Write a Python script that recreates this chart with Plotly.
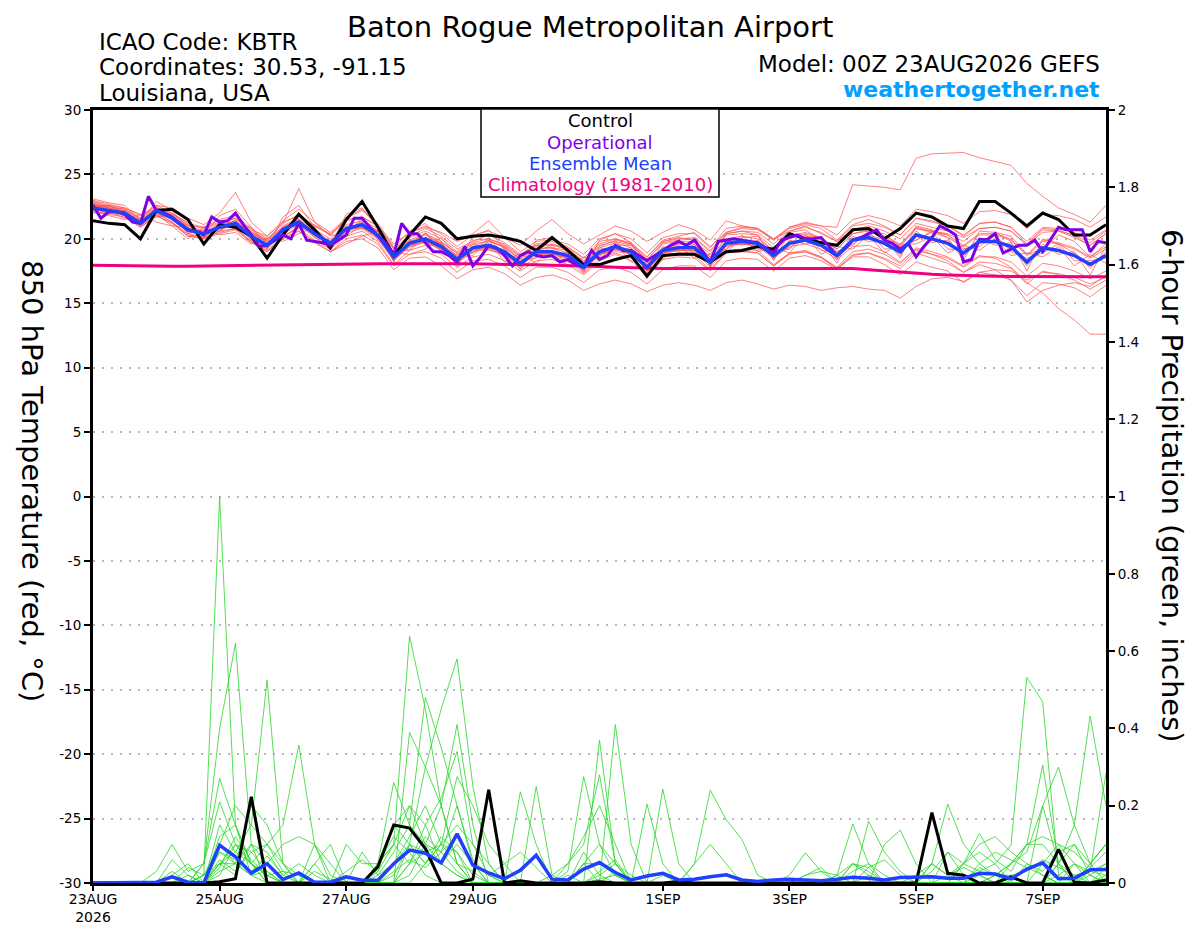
import plotly.graph_objects as go

# ---------------- DATA ----------------
hours6 = list(range(0, 385, 6))     # 65 six-hourly forecast hours
hours3 = list(range(0, 385, 3))     # 129 three-hourly forecast hours (operational)

tick_hours = [0, 48, 96, 144, 216, 264, 312, 360]
tick_labels = ["23AUG<br>2026", "25AUG", "27AUG", "29AUG", "1SEP", "3SEP", "5SEP", "7SEP"]

temp_ticks = [-30, -25, -20, -15, -10, -5, 0, 5, 10, 15, 20, 25, 30]
temp_tick_labels = ["-30", "-25", "-20", "-15", "-10", "-5", "0", "5", "10", "15", "20", "25", "30"]

# Control 850 hPa temperature (C)
control_temp = [21.4, 21.2, 21.1, 20.0, 22.2, 22.3, 21.5, 19.6, 21.1, 20.9, 20.2, 18.5, 20.3,
                21.9, 20.7, 19.3, 21.5, 22.9, 20.9, 18.7, 20.3, 21.7, 21.2, 20.0, 20.2, 20.3,
                20.1, 19.8, 19.1, 20.1, 19.1, 18.0, 18.0, 18.4, 18.7, 17.1, 18.7, 18.8, 18.8,
                18.2, 19.0, 19.1, 19.4, 19.2, 20.4, 20.0, 19.7, 19.5, 20.7, 20.8, 20.0, 20.8,
                22.0, 21.7, 21.0, 20.8, 22.9, 22.9, 22.0, 21.0, 22.0, 21.5, 20.3, 20.3, 21.1]

# Ensemble mean 850 hPa temperature (C)
mean_temp = [22.4, 22.2, 22.0, 21.2, 22.2, 21.6, 20.7, 20.4, 20.9, 21.2, 20.2, 19.5, 20.7,
             21.3, 20.4, 19.65, 20.8, 21.1, 20.3, 18.6, 19.65, 20.0, 19.4, 18.4, 19.3, 19.5,
             19.0, 18.1, 19.0, 19.0, 18.7, 17.8, 19.0, 19.4, 19.0, 17.8, 19.1, 19.3, 19.3,
             18.2, 19.65, 19.8, 19.65, 18.7, 19.65, 19.9, 19.5, 18.7, 19.9, 20.1, 19.65, 19.0,
             20.3, 20.0, 19.65, 18.9, 19.8, 19.8, 19.4, 18.2, 19.3, 19.1, 18.7, 18.0, 18.7]

# Operational (3-hourly) 850 hPa temperature (C)
oper_temp = [22.6, 21.6, 22.1, 22.1, 21.9, 21.3, 21.2, 23.3, 22.2, 22.0,
             21.7, 21.2, 20.7, 20.6, 20.3, 21.7, 21.3, 21.4, 22.0, 21.1,
             20.3, 19.4, 19.5, 19.9, 20.3, 20.0, 21.2, 19.9, 19.8, 19.7,
             19.5, 19.9, 20.3, 21.6, 21.6, 20.9, 20.2, 19.7, 18.7, 21.2,
             20.4, 20.4, 19.7, 19.0, 19.0, 18.7, 18.2, 19.4, 17.9, 18.6,
             19.5, 19.3, 18.7, 17.9, 18.7, 19.0, 18.7, 18.6, 18.7, 18.2,
             18.4, 18.0, 17.8, 19.1, 18.4, 18.7, 19.5, 19.1, 19.1, 18.7,
             18.3, 18.7, 19.1, 19.5, 19.8, 19.5, 19.9, 19.0, 18.2, 19.8,
             19.9, 20.0, 19.9, 19.8, 19.7, 19.3, 18.9, 19.9, 20.1, 20.3,
             20.0, 20.0, 20.1, 19.4, 18.7, 19.2, 19.9, 20.1, 20.4, 20.7,
             19.9, 19.65, 19.2, 19.65, 18.6, 19.4, 20.1, 21.0, 20.7, 20.3,
             18.2, 18.4, 19.95, 19.95, 20.4, 18.9, 19.2, 19.5, 19.5, 19.9,
             19.0, 19.9, 20.9, 20.7, 20.7, 20.7, 19.0, 19.8, 19.7]

# Climatology (1981-2010) 850 hPa temperature (C)
clim_temp = [17.95, 17.93, 17.9, 17.88, 17.87, 17.87, 17.88, 17.9, 17.9, 17.92, 17.93, 17.95, 17.97,
             17.98, 18.0, 18.02, 18.03, 18.05, 18.06, 18.07, 18.08, 18.08, 18.08, 18.07, 18.06, 18.05,
             18.03, 18.0, 17.98, 17.95, 17.93, 17.9, 17.85, 17.8, 17.75, 17.72, 17.7, 17.7, 17.7,
             17.72, 17.73, 17.74, 17.75, 17.75, 17.75, 17.75, 17.74, 17.73, 17.7, 17.6, 17.5, 17.4,
             17.3, 17.25, 17.2, 17.15, 17.1, 17.1, 17.08, 17.07, 17.07, 17.06, 17.06, 17.06, 17.06]

# Ensemble member 850 hPa temperatures (C)
member_temp_01 = [22.9, 22.5, 22.3, 21.6, 22.6, 22.0, 21.0, 20.9, 21.5, 21.8, 20.8, 20.0, 21.2,
                  21.9, 21.0, 20.3, 21.5, 21.7, 21.0, 19.3, 20.2, 20.8, 20.2, 19.2, 19.8, 20.3,
                  19.7, 18.8, 19.6, 19.8, 19.4, 18.5, 19.8, 20.0, 19.6, 18.6, 19.9, 20.2, 20.5,
                  19.4, 20.5, 20.9, 20.8, 20.0, 20.9, 21.2, 21.0, 20.9, 24.2, 24.1, 24.0, 23.8,
                  26.25, 26.6, 26.65, 26.7, 26.3, 26.0, 25.7, 24.3, 23.3, 22.4, 21.9, 21.3, 22.6]
member_temp_02 = [22.1, 21.9, 21.7, 20.9, 21.8, 21.2, 20.2, 20.0, 20.6, 20.8, 19.8, 19.1, 20.2,
                  20.8, 19.9, 19.2, 20.2, 20.6, 19.8, 18.0, 19.1, 19.5, 18.8, 17.8, 18.6, 18.8,
                  18.3, 17.5, 18.3, 18.4, 18.0, 17.2, 18.3, 18.8, 18.3, 17.1, 18.4, 18.6, 18.5,
                  17.5, 18.9, 19.0, 18.9, 17.9, 18.9, 19.1, 18.6, 17.8, 19.0, 19.2, 18.8, 18.1,
                  19.3, 19.0, 18.6, 17.9, 18.7, 18.5, 17.8, 16.6, 15.8, 14.6, 13.7, 12.6, 12.6]
member_temp_03 = [22.7, 22.4, 22.1, 21.0, 22.0, 21.3, 20.4, 20.1, 20.5, 20.8, 19.8, 19.0, 20.0,
                  20.6, 19.7, 19.0, 19.8, 20.0, 19.3, 17.6, 18.5, 18.6, 17.9, 16.9, 17.6, 17.8,
                  17.3, 16.4, 17.0, 17.2, 16.8, 16.0, 16.5, 16.8, 16.5, 15.9, 16.4, 16.6, 16.4,
                  16.0, 16.6, 16.8, 16.5, 16.1, 16.4, 16.3, 16.0, 16.2, 16.3, 16.1, 16.0, 15.4,
                  16.3, 16.9, 17.0, 16.7, 17.4, 17.6, 17.5, 16.8, 17.4, 17.3, 17.0, 16.5, 17.0]
member_temp_04 = [23.0, 22.7, 22.4, 21.8, 22.6, 22.4, 21.6, 21.1, 22.0, 23.6, 21.3, 20.2, 21.4,
                  22.3, 21.3, 20.5, 21.6, 22.2, 21.2, 19.4, 20.5, 21.0, 20.4, 19.4, 20.3, 20.6,
                  20.1, 19.0, 19.8, 19.9, 19.6, 18.8, 20.0, 20.4, 20.0, 18.9, 20.1, 20.4, 20.4,
                  19.3, 20.8, 21.0, 20.8, 19.9, 20.8, 21.1, 20.8, 19.9, 21.1, 21.5, 21.0, 20.3,
                  21.6, 21.4, 21.0, 20.2, 21.2, 21.3, 20.9, 19.6, 20.8, 20.7, 20.2, 19.5, 20.4]
member_temp_05 = [22.3, 22.1, 21.9, 21.4, 22.3, 21.9, 21.1, 20.8, 21.2, 21.6, 20.5, 19.9, 21.2,
                  23.9, 21.3, 20.2, 21.7, 22.3, 21.0, 19.2, 20.1, 20.6, 20.0, 19.0, 19.9, 20.0,
                  19.6, 18.7, 19.5, 19.5, 19.2, 18.3, 19.4, 19.9, 19.6, 18.4, 19.6, 19.8, 19.8,
                  18.8, 20.3, 20.4, 20.3, 19.3, 20.2, 20.5, 20.1, 19.2, 20.4, 20.7, 20.2, 19.6,
                  20.9, 20.6, 20.3, 19.5, 20.4, 20.4, 20.0, 18.8, 19.9, 19.7, 19.3, 18.6, 19.4]
member_temp_06 = [22.6, 22.4, 21.8, 21.5, 21.9, 21.0, 20.9, 20.0, 21.3, 20.7, 20.4, 19.8, 20.2,
                  20.9, 20.8, 19.3, 20.4, 21.6, 19.9, 18.9, 19.2, 20.5, 19.0, 18.8, 18.9, 20.1,
                  18.6, 18.4, 18.5, 19.5, 18.2, 18.1, 18.6, 19.8, 18.6, 18.1, 18.7, 19.8, 18.8,
                  18.5, 19.2, 20.3, 19.2, 19.0, 19.2, 20.4, 19.1, 19.0, 19.5, 20.6, 19.2, 19.3,
                  19.9, 20.5, 19.2, 19.2, 19.4, 20.3, 19.0, 18.5, 18.9, 19.6, 18.3, 18.3, 18.5]
member_temp_07 = [22.2, 22.6, 22.1, 21.0, 22.5, 21.8, 20.4, 20.7, 20.6, 21.5, 20.0, 19.2, 20.9,
                  21.5, 20.1, 19.9, 20.6, 21.3, 20.6, 18.3, 19.9, 19.7, 19.7, 18.1, 19.6, 19.2,
                  19.3, 17.8, 19.3, 18.7, 19.0, 17.5, 19.3, 19.1, 19.3, 17.5, 19.4, 19.0, 19.6,
                  17.9, 19.9, 19.5, 19.9, 18.4, 19.9, 19.6, 19.8, 18.4, 20.2, 19.8, 19.9, 18.7,
                  20.6, 19.7, 19.9, 18.6, 20.1, 19.5, 19.7, 17.9, 19.6, 18.8, 19.0, 17.7, 19.0]
member_temp_08 = [22.8, 22.0, 22.2, 21.3, 21.8, 21.7, 20.9, 20.2, 21.1, 21.0, 20.5, 19.7, 20.5,
                  21.4, 20.6, 19.8, 21.0, 20.8, 20.6, 18.9, 19.8, 20.3, 19.6, 18.7, 19.6, 19.8,
                  19.4, 18.5, 19.4, 19.3, 19.1, 18.3, 19.5, 19.8, 19.5, 18.4, 19.7, 19.9, 20.0,
                  19.0, 20.4, 20.6, 20.5, 19.6, 20.6, 20.9, 20.5, 19.8, 21.0, 21.2, 20.9, 20.3,
                  21.6, 21.3, 21.0, 20.3, 21.2, 21.3, 20.9, 19.8, 20.9, 20.8, 20.5, 19.9, 20.7]
member_temp_09 = [22.5, 22.2, 21.9, 21.1, 22.1, 21.5, 20.6, 20.4, 20.8, 21.1, 20.1, 19.4, 20.6,
                  21.2, 20.3, 19.5, 20.6, 21.0, 20.1, 18.4, 19.4, 19.8, 19.1, 18.1, 19.0, 19.2,
                  18.7, 17.7, 18.6, 18.6, 18.3, 17.3, 18.5, 18.9, 18.5, 17.3, 18.6, 18.8, 18.7,
                  17.6, 19.0, 19.1, 18.9, 17.9, 18.8, 19.0, 18.5, 17.7, 18.8, 18.9, 18.4, 17.7,
                  18.9, 18.5, 18.1, 17.4, 18.2, 18.1, 17.7, 16.5, 17.5, 17.2, 16.8, 16.1, 16.8]
member_temp_10 = [22.4, 22.3, 22.1, 21.4, 22.0, 21.7, 20.8, 20.6, 20.7, 21.3, 20.3, 19.6, 20.8,
                  21.2, 20.5, 19.5, 20.9, 21.0, 20.4, 18.5, 19.8, 19.9, 19.5, 18.3, 19.4, 19.4,
                  19.1, 18.0, 19.1, 18.9, 18.8, 17.7, 19.1, 19.3, 19.1, 17.7, 19.2, 19.2, 19.4,
                  18.1, 19.8, 19.7, 19.8, 18.6, 19.8, 19.8, 19.6, 18.6, 20.0, 20.0, 19.7, 18.9,
                  20.4, 19.9, 19.7, 18.8, 19.9, 19.7, 19.5, 18.1, 19.4, 19.0, 18.8, 17.9, 18.8]
member_temp_11 = [22.7, 22.5, 22.3, 21.6, 22.4, 22.0, 21.2, 20.9, 21.3, 21.6, 20.7, 20.2, 21.3,
                  21.8, 21.0, 20.4, 21.4, 21.7, 21.0, 19.6, 20.5, 20.9, 20.5, 19.8, 20.4, 21.4,
                  20.1, 19.5, 20.6, 21.5, 20.4, 19.6, 20.3, 21.0, 20.6, 19.8, 20.5, 21.1, 20.7,
                  19.9, 21.4, 21.0, 20.8, 20.0, 20.6, 21.0, 20.4, 19.8, 20.7, 21.0, 20.6, 20.0,
                  21.2, 20.9, 20.6, 20.1, 20.8, 20.9, 20.6, 19.5, 20.5, 20.6, 20.1, 19.5, 20.4]
member_temp_12 = [22.3, 22.0, 21.8, 20.9, 21.8, 21.2, 20.3, 20.0, 20.4, 20.7, 19.7, 19.0, 20.1,
                  20.6, 19.8, 19.0, 20.0, 20.3, 19.6, 17.9, 18.8, 19.0, 18.5, 17.4, 18.3, 18.4,
                  17.9, 17.0, 17.8, 17.8, 17.4, 16.6, 17.6, 17.8, 17.4, 16.5, 17.6, 17.9, 17.9,
                  17.0, 18.3, 18.5, 18.4, 17.5, 18.5, 18.7, 18.3, 17.6, 18.7, 18.9, 18.5, 17.9,
                  19.1, 18.8, 18.5, 17.8, 18.6, 18.6, 18.2, 17.1, 18.1, 17.9, 17.5, 16.9, 17.5]
member_temp_13 = [22.9, 22.6, 22.4, 21.9, 22.3, 21.5, 20.6, 20.3, 21.0, 21.4, 20.4, 19.8, 21.0,
                  21.6, 20.2, 19.8, 20.6, 21.4, 20.8, 18.8, 19.6, 20.4, 19.6, 18.6, 19.4, 19.9,
                  19.3, 18.4, 19.2, 19.3, 18.9, 18.0, 19.3, 19.7, 19.3, 18.1, 19.3, 19.6, 19.7,
                  18.6, 20.0, 20.2, 20.0, 19.1, 20.1, 20.4, 20.0, 19.2, 20.4, 20.6, 20.1, 19.5,
                  20.8, 20.5, 20.1, 19.4, 20.3, 20.3, 19.9, 18.7, 19.8, 19.6, 19.2, 18.5, 19.2]
member_temp_14 = [22.6, 22.2, 22.0, 21.3, 22.4, 21.6, 20.6, 20.5, 20.8, 21.2, 20.2, 19.6, 20.6,
                  21.2, 20.3, 19.6, 20.7, 20.9, 20.2, 18.5, 19.5, 19.8, 19.3, 18.3, 19.2, 19.3,
                  18.9, 18.0, 18.9, 18.9, 18.5, 17.6, 18.8, 19.2, 18.8, 17.6, 18.9, 19.1, 19.1,
                  18.0, 19.4, 19.6, 19.4, 18.5, 19.4, 19.6, 19.2, 18.4, 19.4, 19.5, 19.0, 18.2,
                  19.2, 18.8, 18.3, 17.4, 18.0, 17.6, 16.8, 15.1, 16.0, 16.4, 16.6, 16.3, 17.2]
member_temp_15 = [22.0, 22.1, 21.6, 21.2, 22.0, 21.3, 20.2, 20.2, 20.8, 21.0, 19.9, 19.3, 20.4,
                  21.1, 20.1, 19.4, 20.5, 20.8, 20.0, 18.3, 19.4, 19.7, 19.2, 18.2, 19.1, 19.3,
                  18.8, 17.9, 18.8, 18.8, 18.5, 17.6, 18.8, 19.2, 18.8, 17.6, 18.9, 19.1, 19.1,
                  18.0, 19.5, 19.6, 19.5, 18.6, 19.6, 19.8, 19.5, 18.8, 20.0, 20.3, 19.9, 19.4,
                  20.8, 20.6, 20.4, 19.8, 20.8, 20.9, 20.6, 19.5, 20.7, 20.6, 20.3, 19.7, 20.6]
member_temp_16 = [22.8, 22.4, 22.2, 21.5, 22.3, 21.8, 21.0, 20.6, 21.1, 21.4, 20.6, 19.9, 20.9,
                  21.5, 20.7, 20.0, 21.1, 21.4, 20.6, 19.0, 19.9, 20.4, 19.8, 18.9, 19.7, 20.0,
                  19.5, 18.6, 19.5, 19.6, 19.3, 18.5, 19.6, 20.0, 19.7, 18.6, 19.8, 20.0, 20.1,
                  19.1, 20.5, 20.8, 20.7, 19.9, 20.9, 21.3, 21.0, 20.3, 21.5, 21.8, 21.5, 21.0,
                  22.3, 22.1, 21.8, 21.2, 22.1, 22.2, 21.9, 20.8, 21.9, 21.8, 21.5, 20.9, 21.7]
member_temp_17 = [22.2, 21.8, 21.5, 21.9, 21.3, 21.0, 20.0, 20.9, 20.3, 20.5, 19.6, 20.1, 19.8,
                  20.4, 20.9, 19.0, 19.6, 20.2, 20.6, 18.9, 18.8, 19.2, 20.1, 18.6, 18.7, 19.9,
                  18.2, 18.9, 18.1, 19.3, 17.9, 18.6, 18.4, 19.6, 18.2, 18.5, 18.4, 19.5, 18.5,
                  18.8, 19.0, 20.0, 19.0, 19.3, 18.9, 20.3, 18.8, 19.4, 19.2, 20.3, 18.9, 19.6,
                  19.6, 20.2, 18.9, 19.5, 19.1, 20.0, 18.7, 18.9, 18.6, 19.4, 17.9, 18.8, 18.1]
member_temp_18 = [23.1, 22.8, 22.6, 21.4, 22.9, 22.2, 20.8, 20.3, 21.8, 22.3, 20.9, 19.2, 21.7,
                  22.6, 20.9, 19.5, 21.9, 22.4, 20.9, 18.2, 20.6, 21.2, 19.8, 17.9, 20.2, 20.7,
                  19.2, 17.6, 19.9, 20.1, 18.9, 17.4, 19.9, 20.4, 19.7, 17.3, 19.8, 20.1, 19.9,
                  17.8, 20.4, 20.6, 20.3, 18.3, 20.5, 20.7, 19.9, 18.1, 20.6, 20.9, 20.1, 18.5,
                  21.0, 20.7, 20.1, 18.3, 20.6, 20.5, 19.8, 17.5, 20.0, 19.6, 18.9, 17.2, 19.4]
member_temp_19 = [22.5, 22.6, 22.0, 21.1, 21.7, 21.9, 21.3, 20.1, 20.9, 21.0, 20.9, 19.6, 20.1,
                  21.0, 21.1, 20.3, 20.2, 21.1, 20.6, 19.2, 19.1, 20.1, 19.7, 18.9, 18.9, 19.8,
                  19.4, 18.3, 18.9, 19.6, 19.1, 18.2, 18.7, 19.5, 19.5, 18.3, 18.8, 19.6, 19.5,
                  18.6, 19.2, 20.1, 20.2, 19.0, 19.3, 20.2, 20.1, 19.0, 19.6, 20.5, 20.4, 19.4,
                  19.9, 20.6, 20.3, 19.2, 19.6, 20.5, 20.2, 18.8, 19.2, 20.3, 19.8, 18.6, 19.6]
member_temp_20 = [22.7, 22.3, 22.2, 21.2, 22.2, 21.5, 20.5, 20.5, 20.6, 21.3, 20.0, 19.4, 20.9,
                  21.0, 20.3, 19.7, 20.7, 20.9, 20.1, 18.3, 19.7, 19.9, 19.2, 18.0, 19.3, 19.1,
                  18.8, 17.9, 18.9, 18.6, 18.6, 17.4, 18.8, 19.0, 18.9, 17.5, 18.8, 18.9, 19.0,
                  17.8, 19.1, 19.2, 19.1, 18.0, 18.9, 19.0, 18.6, 17.7, 18.6, 18.6, 18.0, 17.2,
                  18.2, 17.8, 17.5, 16.6, 17.4, 17.2, 16.8, 15.6, 16.6, 16.5, 16.2, 15.5, 16.4]

member_temps = [member_temp_01, member_temp_02, member_temp_03, member_temp_04,
                member_temp_05, member_temp_06, member_temp_07, member_temp_08,
                member_temp_09, member_temp_10, member_temp_11, member_temp_12,
                member_temp_13, member_temp_14, member_temp_15, member_temp_16,
                member_temp_17, member_temp_18, member_temp_19, member_temp_20]

# 6-hour precipitation (inches)
control_precip = [0, 0, 0, 0, 0, 0, 0, 0, 0.003, 0.011, 0.223, 0, 0,
                  0, 0, 0, 0, 0, 0.042, 0.150, 0.142, 0.089, 0, 0, 0.010, 0.241,
                  0, 0.006, 0, 0, 0, 0, 0.003, 0, 0, 0, 0, 0.004, 0,
                  0, 0, 0, 0, 0, 0, 0, 0, 0, 0, 0, 0, 0,
                  0, 0.182, 0.025, 0.020, 0, 0, 0.016, 0, 0, 0.087, 0.002, 0, 0.008]
mean_precip = [0, 0, 0, 0, 0.002, 0.016, 0.002, 0, 0.098, 0.068, 0.026, 0.050, 0.009,
               0.026, 0.002, 0.002, 0.016, 0.007, 0.007, 0.050, 0.085, 0.077, 0.052, 0.127, 0.046, 0.026,
               0.011, 0.033, 0.072, 0.010, 0.008, 0.036, 0.053, 0.027, 0.008, 0.018, 0.025, 0.008, 0.010,
               0.016, 0.021, 0.008, 0.004, 0.008, 0.010, 0.008, 0.006, 0.010, 0.015, 0.012, 0.008, 0.014,
               0.014, 0.016, 0.012, 0.012, 0.025, 0.023, 0.011, 0.036, 0.052, 0.011, 0.012, 0.034, 0.035]

member_precip_01 = [0, 0, 0, 0, 0, 0, 0, 0.02, 1.0, 0.15, 0.02, 0, 0,
                    0, 0, 0, 0, 0, 0.05, 0.12, 0.08, 0.02, 0, 0, 0, 0,
                    0, 0, 0, 0, 0, 0.08, 0.02, 0, 0, 0, 0, 0, 0,
                    0, 0, 0, 0, 0, 0, 0, 0, 0, 0.03, 0.05, 0, 0,
                    0, 0, 0, 0, 0.02, 0, 0, 0, 0, 0, 0.05, 0.02, 0]
member_precip_02 = [0, 0, 0, 0, 0, 0.03, 0, 0.05, 0.4, 0.62, 0.1, 0, 0,
                    0, 0, 0, 0, 0, 0, 0, 0.02, 0.1, 0.2, 0.05, 0, 0,
                    0, 0, 0, 0, 0, 0, 0, 0, 0, 0, 0.02, 0, 0,
                    0, 0, 0, 0, 0, 0, 0, 0, 0, 0.05, 0.03, 0, 0,
                    0, 0, 0.02, 0.05, 0.03, 0.05, 0.098, 0.532, 0.469, 0.02, 0, 0.03, 0.05]
member_precip_03 = [0, 0, 0, 0, 0, 0, 0, 0.02, 0.1, 0.2, 0.15, 0.525, 0.05,
                    0.02, 0, 0, 0, 0, 0.05, 0.15, 0.2, 0.1, 0.05, 0.02, 0, 0,
                    0, 0, 0, 0, 0.05, 0.12, 0.2, 0.1, 0, 0, 0, 0, 0,
                    0, 0, 0, 0, 0, 0, 0, 0, 0, 0, 0, 0, 0,
                    0, 0, 0, 0, 0, 0.02, 0.05, 0.08, 0.2, 0.3, 0.15, 0.05, 0.1]
member_precip_04 = [0, 0, 0, 0, 0, 0, 0, 0, 0.05, 0.1, 0.08, 0.1, 0.15,
                    0.357, 0.1, 0.02, 0, 0, 0, 0, 0, 0.05, 0.1, 0.08, 0, 0,
                    0, 0, 0, 0, 0, 0, 0, 0.03, 0, 0, 0, 0, 0.05,
                    0.24, 0.164, 0.113, 0.02, 0, 0, 0, 0, 0, 0, 0, 0, 0,
                    0, 0, 0, 0, 0, 0, 0, 0, 0, 0.02, 0.05, 0.03, 0.284]
member_precip_05 = [0, 0, 0, 0, 0.03, 0.1, 0.03, 0.05, 0.27, 0.15, 0.05, 0.02, 0,
                    0, 0, 0, 0.03, 0.06, 0.03, 0.1, 0.639, 0.45, 0.2, 0.05, 0, 0,
                    0, 0, 0, 0, 0, 0.05, 0.1, 0.05, 0, 0, 0, 0, 0,
                    0, 0, 0, 0, 0, 0, 0, 0, 0, 0, 0.04, 0.06, 0.02,
                    0, 0, 0, 0, 0, 0, 0, 0, 0, 0, 0, 0, 0]
member_precip_06 = [0, 0, 0, 0, 0, 0, 0, 0.05, 0.21, 0.1, 0.05, 0.1, 0.03,
                    0.02, 0, 0, 0, 0, 0.05, 0.26, 0.15, 0.48, 0.35, 0.2, 0.05, 0,
                    0, 0, 0, 0, 0.03, 0.275, 0.1, 0.02, 0, 0, 0, 0, 0,
                    0, 0, 0, 0, 0, 0, 0.02, 0.04, 0, 0, 0, 0, 0,
                    0, 0, 0, 0.05, 0.08, 0.05, 0, 0, 0.2, 0.05, 0, 0, 0.02]
member_precip_07 = [0, 0, 0, 0, 0, 0.06, 0.02, 0, 0.15, 0.08, 0.05, 0, 0,
                    0, 0.05, 0.1, 0, 0, 0, 0.02, 0.1, 0.3, 0.45, 0.58, 0.25, 0.05,
                    0, 0, 0, 0, 0, 0, 0.37, 0.05, 0, 0, 0, 0, 0,
                    0, 0, 0, 0, 0, 0.02, 0.078, 0.03, 0, 0, 0, 0, 0,
                    0, 0.05, 0.204, 0.1, 0.05, 0.02, 0, 0, 0.05, 0.1, 0.05, 0, 0]
member_precip_08 = [0, 0, 0, 0, 0, 0, 0, 0, 0.1, 0.05, 0.02, 0.05, 0.1,
                    0.12, 0.1, 0.05, 0, 0, 0, 0, 0.39, 0.3, 0.2, 0.41, 0.15, 0,
                    0, 0, 0, 0.02, 0.05, 0.1, 0.28, 0.05, 0, 0, 0, 0, 0,
                    0, 0, 0, 0, 0, 0, 0, 0, 0.02, 0.153, 0.05, 0.02, 0,
                    0, 0, 0, 0.05, 0.128, 0.06, 0.03, 0.1, 0.305, 0.05, 0, 0, 0]
member_precip_09 = [0, 0, 0, 0, 0, 0, 0.04, 0.02, 0.05, 0.08, 0.15, 0.1, 0.05,
                    0, 0, 0, 0.1, 0.05, 0.05, 0.1, 0.2, 0.15, 0.22, 0.34, 0.1, 0.02,
                    0, 0.236, 0.1, 0, 0, 0, 0, 0.41, 0.1, 0, 0, 0, 0,
                    0, 0, 0, 0, 0, 0, 0, 0, 0, 0, 0.16, 0.08, 0.03,
                    0, 0, 0, 0, 0, 0, 0, 0, 0, 0, 0, 0.05, 0.1]
member_precip_10 = [0, 0, 0, 0, 0, 0, 0, 0, 0.05, 0.02, 0.1, 0.08, 0.02,
                    0.05, 0.02, 0, 0, 0, 0.03, 0.15, 0.1, 0.05, 0.1, 0.275, 0.2, 0.1,
                    0.05, 0, 0.25, 0.02, 0, 0, 0, 0, 0, 0.204, 0.05, 0, 0,
                    0, 0, 0, 0, 0, 0, 0, 0, 0, 0, 0, 0.1, 0.137,
                    0.05, 0, 0, 0, 0, 0.02, 0.05, 0.1, 0.1, 0.05, 0.15, 0.432, 0.2]
member_precip_11 = [0, 0, 0, 0, 0, 0, 0, 0.02, 0.08, 0.05, 0.02, 0.03, 0,
                    0, 0.1, 0, 0, 0.08, 0.02, 0.05, 0.1, 0.08, 0.05, 0.1, 0.05, 0,
                    0, 0, 0, 0, 0, 0.05, 0.05, 0.02, 0, 0, 0.243, 0.05, 0,
                    0, 0, 0, 0, 0, 0, 0, 0, 0, 0.05, 0.02, 0, 0,
                    0, 0.03, 0.08, 0.05, 0.1, 0.12, 0.08, 0.05, 0.02, 0, 0, 0.05, 0.1]
member_precip_12 = [0, 0, 0, 0, 0, 0, 0, 0, 0.03, 0.05, 0.1, 0.05, 0,
                    0, 0, 0, 0, 0, 0, 0.05, 0.12, 0.2, 0.1, 0.05, 0.03, 0,
                    0, 0, 0, 0, 0, 0, 0, 0, 0, 0, 0, 0, 0.05,
                    0.1, 0.05, 0, 0, 0, 0, 0, 0, 0, 0, 0, 0, 0,
                    0, 0, 0, 0, 0, 0, 0, 0, 0, 0.05, 0.1, 0.05, 0]
member_precip_13 = [0, 0, 0, 0, 0, 0, 0, 0, 0.02, 0.1, 0.05, 0, 0,
                    0, 0, 0, 0, 0, 0.02, 0.08, 0.15, 0.1, 0.08, 0.12, 0.05, 0.02,
                    0.05, 0.08, 0.04, 0, 0, 0, 0.02, 0.05, 0.02, 0, 0, 0, 0,
                    0, 0, 0, 0, 0, 0, 0, 0, 0, 0, 0, 0, 0,
                    0.02, 0.05, 0.02, 0, 0.05, 0.08, 0.06, 0.04, 0.02, 0, 0, 0.02, 0.05]
member_precip_14 = [0, 0, 0, 0, 0, 0, 0.02, 0, 0.05, 0.05, 0.2, 0.15, 0.05,
                    0, 0, 0, 0, 0, 0, 0, 0.05, 0.08, 0.1, 0.15, 0.1, 0.05,
                    0, 0, 0, 0, 0.02, 0, 0, 0, 0, 0, 0, 0, 0,
                    0, 0, 0, 0, 0, 0, 0, 0, 0, 0, 0, 0, 0,
                    0, 0.05, 0.02, 0.04, 0.02, 0, 0.05, 0.1, 0.12, 0.1, 0.08, 0.04, 0.08]
member_precip_15 = [0, 0, 0, 0, 0, 0, 0, 0, 0.12, 0.15, 0.05, 0.02, 0.03,
                    0, 0.05, 0, 0, 0, 0, 0, 0.05, 0.15, 0.05, 0.02, 0, 0,
                    0, 0, 0, 0, 0, 0, 0, 0, 0, 0, 0, 0, 0,
                    0, 0, 0, 0, 0, 0, 0.02, 0.03, 0.02, 0, 0, 0, 0,
                    0, 0, 0.08, 0.02, 0, 0, 0, 0, 0, 0.05, 0.02, 0, 0]
member_precip_16 = [0, 0, 0, 0, 0, 0.02, 0.05, 0, 0.06, 0.03, 0.08, 0.03, 0,
                    0, 0, 0, 0, 0, 0.05, 0.1, 0.05, 0.12, 0.08, 0.03, 0, 0,
                    0, 0, 0, 0, 0, 0.05, 0, 0, 0, 0, 0, 0, 0,
                    0, 0, 0, 0, 0, 0, 0, 0, 0, 0, 0, 0, 0,
                    0, 0, 0, 0, 0, 0, 0, 0.05, 0.03, 0.08, 0.1, 0.02, 0]
member_precip_17 = [0, 0, 0, 0, 0, 0, 0, 0, 0.04, 0.12, 0.06, 0.02, 0,
                    0, 0, 0, 0, 0, 0, 0.03, 0.06, 0.04, 0.08, 0.2, 0.06, 0.02,
                    0, 0, 0, 0, 0, 0, 0.03, 0.06, 0, 0, 0, 0, 0,
                    0, 0, 0, 0, 0, 0, 0, 0, 0.02, 0.05, 0.04, 0, 0,
                    0, 0, 0, 0, 0.04, 0.02, 0.02, 0, 0, 0, 0, 0, 0.04]
member_precip_18 = [0, 0, 0, 0, 0, 0, 0, 0, 0.08, 0.06, 0.03, 0.07, 0.02,
                    0, 0.03, 0.01, 0, 0, 0, 0, 0.1, 0.05, 0.12, 0.08, 0.02, 0,
                    0, 0, 0, 0, 0, 0, 0.01, 0.02, 0, 0, 0, 0, 0,
                    0, 0, 0, 0, 0, 0, 0, 0, 0, 0, 0.02, 0, 0,
                    0, 0, 0, 0, 0, 0, 0.02, 0.03, 0.06, 0.04, 0.02, 0.03, 0.02]

member_precips = [member_precip_01, member_precip_02, member_precip_03, member_precip_04,
                  member_precip_05, member_precip_06, member_precip_07, member_precip_08,
                  member_precip_09, member_precip_10, member_precip_11, member_precip_12,
                  member_precip_13, member_precip_14, member_precip_15, member_precip_16,
                  member_precip_17, member_precip_18]

for s in [control_temp, mean_temp, clim_temp, control_precip, mean_precip] + member_temps + member_precips:
    assert len(s) == len(hours6), len(s)
assert len(oper_temp) == len(hours3), len(oper_temp)

# ---------------- STYLE ----------------
FONT = "DejaVu Sans"
RED = "rgba(255,80,80,0.9)"
GREEN = "rgb(40,215,40)"
PURPLE = "#8000e6"
BLUE = "#2040ff"
PINK = "#f00080"
SKY = "#00a0ff"

# page offset of the default html body margin
OFF = 8
L, R, T, B = 93, 1106, 110, 883          # plot area in window pixels
W, H = 1200 - OFF, 927 - OFF              # figure size


def px(x):
    return (x - L) / (R - L)


def py(y):
    return (B - y) / (B - T)


fig = go.Figure()

for m in member_temps:
    fig.add_trace(go.Scatter(x=hours6, y=m, mode="lines", yaxis="y",
                             line=dict(color=RED, width=0.8), hoverinfo="skip"))
fig.add_trace(go.Scatter(x=hours6, y=clim_temp, mode="lines", yaxis="y",
                         line=dict(color=PINK, width=3), hoverinfo="skip"))
fig.add_trace(go.Scatter(x=hours6, y=control_temp, mode="lines", yaxis="y",
                         line=dict(color="black", width=3), hoverinfo="skip"))
fig.add_trace(go.Scatter(x=hours3, y=oper_temp, mode="lines", yaxis="y",
                         line=dict(color=PURPLE, width=3), hoverinfo="skip"))
fig.add_trace(go.Scatter(x=hours6, y=mean_temp, mode="lines", yaxis="y",
                         line=dict(color=BLUE, width=3.5), hoverinfo="skip"))

for g in member_precips:
    fig.add_trace(go.Scatter(x=hours6, y=g, mode="lines", yaxis="y2",
                             line=dict(color=GREEN, width=0.8), hoverinfo="skip"))
fig.add_trace(go.Scatter(x=hours6, y=control_precip, mode="lines", yaxis="y2",
                         line=dict(color="black", width=3), hoverinfo="skip"))
fig.add_trace(go.Scatter(x=hours6, y=mean_precip, mode="lines", yaxis="y2",
                         line=dict(color=BLUE, width=3.5), hoverinfo="skip"))

annotations = [
    dict(text="Baton Rogue Metropolitan Airport", x=px(590), y=py(27), xanchor="center",
         yanchor="middle", font=dict(size=29, color="black")),
    dict(text="ICAO Code: KBTR", x=px(97), y=py(42), xanchor="left", yanchor="middle",
         font=dict(size=23, color="black")),
    dict(text="Coordinates: 30.53, -91.15", x=px(97), y=py(67), xanchor="left", yanchor="middle",
         font=dict(size=23, color="black")),
    dict(text="Louisiana, USA", x=px(97), y=py(93), xanchor="left", yanchor="middle",
         font=dict(size=23, color="black")),
    dict(text="Model: 00Z 23AUG2026 GEFS", x=px(1102), y=py(64), xanchor="right", yanchor="middle",
         font=dict(size=23, color="black")),
    dict(text="<b>weathertogether.net</b>", x=px(1102), y=py(89), xanchor="right", yanchor="middle",
         font=dict(size=22, color=SKY)),
    dict(text="Control", x=px(600), y=py(121), xanchor="center", yanchor="middle",
         font=dict(size=18, color="black")),
    dict(text="Operational", x=px(600), y=py(142), xanchor="center", yanchor="middle",
         font=dict(size=18, color=PURPLE)),
    dict(text="Ensemble Mean", x=px(600), y=py(163), xanchor="center", yanchor="middle",
         font=dict(size=18, color=BLUE)),
    dict(text="Climatology (1981-2010)", x=px(600), y=py(185), xanchor="center", yanchor="middle",
         font=dict(size=18, color=PINK)),
    dict(text="850 hPa Temperature (red, °C)", x=px(32), y=py(481), xanchor="center",
         yanchor="middle", textangle=90, font=dict(size=29, color="black")),
    dict(text="6-hour Precipitation (green, inches)", x=px(1172), y=py(486), xanchor="center",
         yanchor="middle", textangle=90, font=dict(size=29, color="black")),
]
for a in annotations:
    a.update(xref="paper", yref="paper", showarrow=False)

fig.update_layout(
    width=W, height=H, autosize=False,
    margin=dict(l=L - OFF, r=W - (R - OFF), t=T - OFF, b=H - (B - OFF), pad=0, autoexpand=False),
    paper_bgcolor="white", plot_bgcolor="white",
    showlegend=False,
    font=dict(family=FONT, color="black"),
    annotations=annotations,
    shapes=[dict(type="rect", xref="paper", yref="paper",
                 x0=px(481), x1=px(719), y0=py(197), y1=py(109),
                 line=dict(color="black", width=1.5), fillcolor="white", layer="above")],
    xaxis=dict(range=[0, 384], tickvals=tick_hours, ticktext=tick_labels, automargin=False,
               showgrid=False, zeroline=False, ticks="outside", ticklen=5, tickwidth=1.5,
               tickcolor="black", tickfont=dict(size=14, family=FONT), ticklabelstandoff=-4,
               showline=True, linewidth=3, linecolor="black", mirror=True),
    yaxis=dict(range=[-30, 30], tickvals=temp_ticks, ticktext=temp_tick_labels, automargin=False,
               showgrid=True, gridcolor="#b8b8b8", gridwidth=2, griddash="2px,7px",
               zeroline=False, ticks="outside", ticklen=6, tickwidth=1.5, tickcolor="black",
               tickfont=dict(size=13.5, family=FONT),
               showline=True, linewidth=3, linecolor="black"),
    yaxis2=dict(range=[0, 2], dtick=0.2, tick0=0, overlaying="y", side="right", automargin=False,
                showgrid=False, zeroline=False, ticks="outside", ticklen=6, tickwidth=1.5,
                tickcolor="black", tickfont=dict(size=13.5, family=FONT),
                showline=True, linewidth=3, linecolor="black"),
)

fig.write_html("out.html")
